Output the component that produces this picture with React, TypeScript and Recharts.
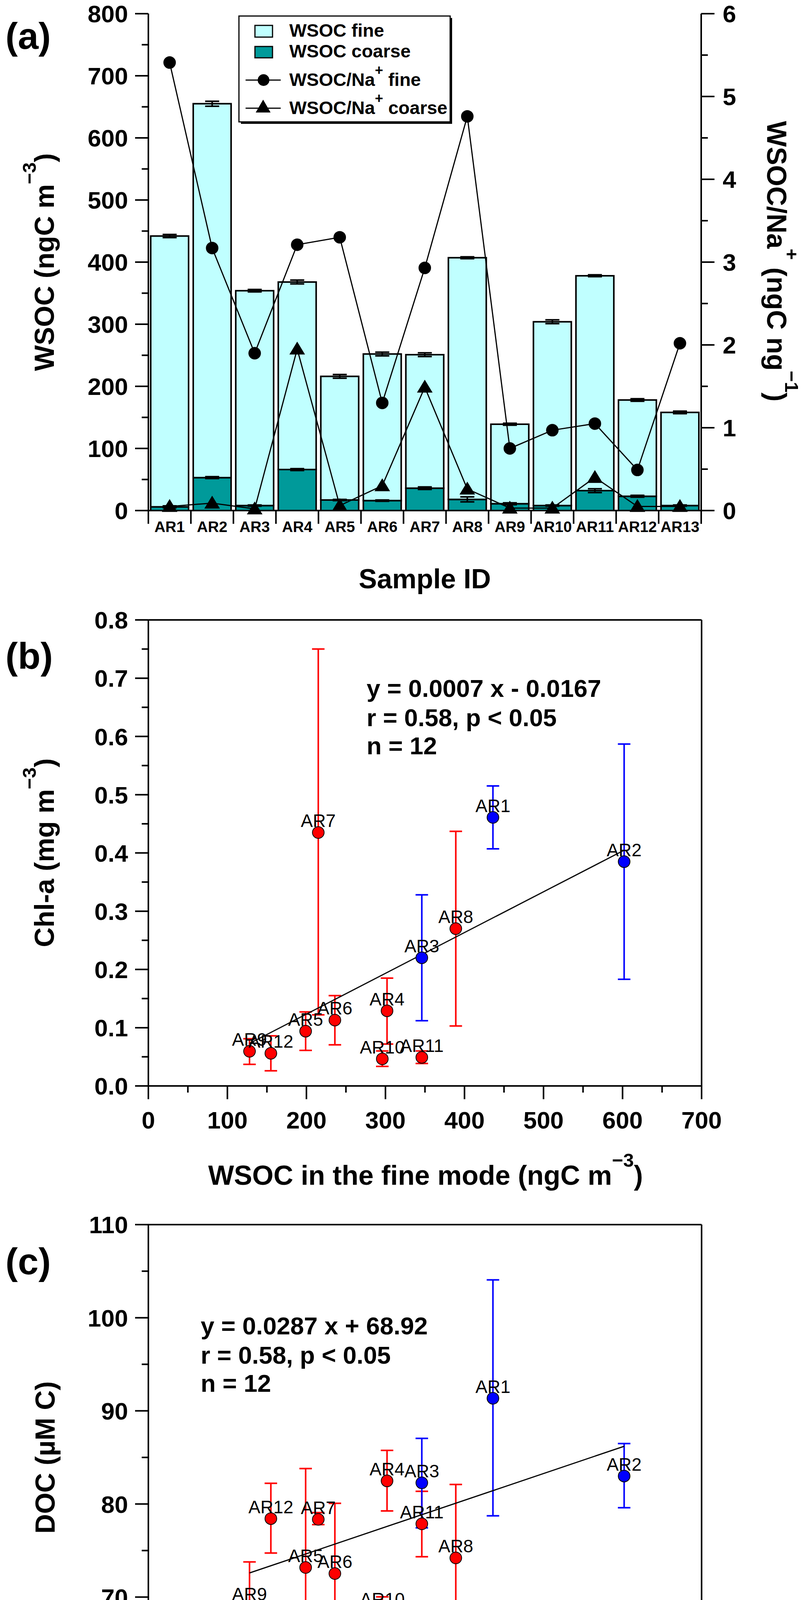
import React from 'react';
import {
  ComposedChart,
  Bar,
  Line,
  Scatter,
  XAxis,
  YAxis,
  ErrorBar,
  ReferenceLine
} from 'recharts';

const FONT = '"Liberation Sans", Arial, Helvetica, sans-serif';
const PAGE_W = 2067;
const PAGE_H = 4609;
const CYAN = '#c0ffff';
const TEAL = '#009a9a';
const RED = '#ff0000';
const BLUE = '#0000ff';

// ---------- panel (a) ----------
const sampleIds = ['AR1', 'AR2', 'AR3', 'AR4', 'AR5', 'AR6', 'AR7', 'AR8', 'AR9', 'AR10', 'AR11', 'AR12', 'AR13'];
const wsocFine = [436, 602, 346, 302, 199, 236, 215, 389, 128, 296, 346, 155, 150];
const wsocFineErr = [2.5, 4, 2, 3, 3, 3, 3, 1.5, 1.5, 3, 1.5, 2, 2];
const wsocCoarse = [6, 53, 8, 66, 17, 16, 36, 18, 11, 8, 32, 23, 8];
const wsocCoarseErr = [1.5, 1.5, 1, 1.5, 1, 1, 2, 4, 1.5, 1, 3, 1.5, 1];
const ratioFine = [5.41, 3.17, 1.9, 3.21, 3.3, 1.3, 2.93, 4.76, 0.75, 0.97, 1.05, 0.49, 2.02];
const ratioCoarse = [0.05, 0.09, 0.02, 1.95, 0.06, 0.3, 1.49, 0.26, 0.03, 0.03, 0.4, 0.05, 0.05];

const wsocTicks = [0, 50, 100, 150, 200, 250, 300, 350, 400, 450, 500, 550, 600, 650, 700, 750, 800];
const ratioTicks = [0, 0.5, 1, 1.5, 2, 2.5, 3, 3.5, 4, 4.5, 5, 5.5, 6];

// ---------- panels (b) and (c) ----------
const seaIds = ['AR1', 'AR2', 'AR3', 'AR4', 'AR5', 'AR6', 'AR7', 'AR8', 'AR9', 'AR10', 'AR11', 'AR12'];
const seaGroup = ['blue', 'blue', 'blue', 'red', 'red', 'red', 'red', 'red', 'red', 'red', 'red', 'red'];
const chla = [0.461, 0.385, 0.22, 0.129, 0.094, 0.113, 0.435, 0.27, 0.0595, 0.0465, 0.049, 0.056];
const chlaHigh = [0.515, 0.587, 0.328, 0.185, 0.127, 0.155, 0.75, 0.437, 0.081, 0.06, 0.06, 0.086];
const chlaLow = [0.407, 0.183, 0.112, 0.072, 0.061, 0.0705, 0.122, 0.103, 0.037, 0.0335, 0.0385, 0.026];
const doc = [91.35, 83.0, 82.27, 82.48, 73.18, 72.53, 78.35, 74.21, 69.04, 68.53, 77.87, 78.43];
const docHigh = [104.06, 86.49, 87.05, 85.75, 83.8, 80.07, 79.08, 82.09, 73.78, 70.03, 81.36, 82.22];
const docLow = [78.73, 79.6, 77.44, 79.25, 62.54, 64.91, 77.79, 66.46, 64.35, 67.1, 74.34, 74.73];

const fitSlope = [0.0007, 0.0287];
const fitIntercept = [-0.0167, 68.92];

const wsocXTicks = [0, 50, 100, 150, 200, 250, 300, 350, 400, 450, 500, 550, 600, 650, 700];
const chlaTicks = [0, 0.05, 0.1, 0.15, 0.2, 0.25, 0.3, 0.35, 0.4, 0.45, 0.5, 0.55, 0.6, 0.65, 0.7, 0.75, 0.8];
const docTicks = [60, 65, 70, 75, 80, 85, 90, 95, 100, 105, 110];

// layout (page pixels)
const PLOT_L = 380;
const PLOT_R = 1796;
const PLOT_W = PLOT_R - PLOT_L;
const MAJOR = 34;
const MINOR = 17;
const AX = 4;
const TICK_FS = 62;
const TITLE_FS = 70;
const axisStyle = { stroke: '#000', strokeWidth: AX };

const barRows = sampleIds.map((id, i) => ({
  id,
  fine: wsocFine[i],
  fineErr: wsocFineErr[i],
  coarse: wsocCoarse[i],
  coarseErr: wsocCoarseErr[i],
  ratioFine: ratioFine[i],
  ratioCoarse: ratioCoarse[i]
}));

const seaPoints = (vals: number[], hi: number[], lo: number[], group: string) =>
  seaIds
    .map((name, i) => ({
      name,
      group: seaGroup[i],
      x: wsocFine[i],
      y: vals[i],
      err: [vals[i] - lo[i], hi[i] - vals[i]]
    }))
    .filter(p => p.group === group);

const seaX = seaIds.map((_, i) => wsocFine[i]);
const fitSegment = (k: number) => {
  const x0 = Math.min(...seaX);
  const x1 = Math.max(...seaX);
  return [
    { x: x0, y: fitSlope[k] * x0 + fitIntercept[k] },
    { x: x1, y: fitSlope[k] * x1 + fitIntercept[k] }
  ];
};

const isMajor = (v: number, step: number) => Math.abs(v / step - Math.round(v / step)) < 1e-6;

type Side = 'left' | 'right' | 'top' | 'bottom';

const makeTick = (side: Side, step: number, fmt?: (v: number) => string, gap = 0) => (props: any) => {
  const { x, y, payload } = props;
  const v = Number(payload.value);
  const major = isMajor(v, step);
  const len = major ? MAJOR : MINOR;
  const showLabel = fmt && major;
  const t = { fontSize: TICK_FS, fontWeight: 'bold', fontFamily: FONT, fill: '#000' } as any;
  if (side === 'left') {
    return (
      <g>
        <line x1={x - len} y1={y} x2={x} y2={y} stroke="#000" strokeWidth={AX} />
        {showLabel && <text x={x - gap} y={y + TICK_FS * 0.36} textAnchor="end" {...t}>{fmt!(v)}</text>}
      </g>
    );
  }
  if (side === 'right') {
    return (
      <g>
        <line x1={x} y1={y} x2={x + len} y2={y} stroke="#000" strokeWidth={AX} />
        {showLabel && <text x={x + gap} y={y + TICK_FS * 0.36} textAnchor="start" {...t}>{fmt!(v)}</text>}
      </g>
    );
  }
  if (side === 'top') {
    return <line x1={x} y1={y - len} x2={x} y2={y} stroke="#000" strokeWidth={AX} />;
  }
  return (
    <g>
      <line x1={x} y1={y} x2={x} y2={y + len} stroke="#000" strokeWidth={AX} />
      {showLabel && <text x={x} y={y + gap} textAnchor="middle" {...t}>{fmt!(v)}</text>}
    </g>
  );
};

const BAND = PLOT_W / sampleIds.length;
const categoryTick = (props: any) => {
  const { x, y, payload, index } = props;
  return (
    <g>
      <line x1={x - BAND / 2} y1={y} x2={x - BAND / 2} y2={y + MAJOR} stroke="#000" strokeWidth={AX} />
      {index === sampleIds.length - 1 && (
        <line x1={x + BAND / 2} y1={y} x2={x + BAND / 2} y2={y + MAJOR} stroke="#000" strokeWidth={AX} />
      )}
      <text x={x} y={y + 55} textAnchor="middle" fontSize={39} fontWeight="bold" fontFamily={FONT}>
        {payload.value}
      </text>
    </g>
  );
};

const circleDot = (p: any) => <circle key={`c${p.index}`} cx={p.cx} cy={p.cy} r={16} fill="#000" />;
const triangleDot = (p: any) => (
  <path key={`t${p.index}`} d={`M${p.cx},${p.cy - 19} L${p.cx + 20},${p.cy + 14} L${p.cx - 20},${p.cy + 14} Z`} fill="#000" />
);

const pointShape = (fill: string) => (p: any) => (
  <g>
    <circle cx={p.cx} cy={p.cy} r={15} fill={fill} stroke="#000" strokeWidth={2} />
    <text x={p.cx} y={p.cy - 14} textAnchor="middle" fontSize={46} fontFamily={FONT} fill="#000">
      {p.payload.name}
    </text>
  </g>
);

const fmtInt = (v: number) => String(v);
const fmt1 = (v: number) => v.toFixed(1);

const ScatterPanel = ({ top, height, margin, yDomain, yTicks, yStep, yFmt, vals, hi, lo, k }: any) => (
  <div style={{ position: 'absolute', left: 0, top }}>
    <ComposedChart width={PAGE_W} height={height} margin={margin}>
      <XAxis dataKey="x" type="number" domain={[0, 700]} ticks={wsocXTicks} interval={0} height={100}
        axisLine={axisStyle} tickLine={false} tickSize={0} tickMargin={0}
        tick={makeTick('bottom', 100, fmtInt, 109)} />
      <XAxis xAxisId="top" orientation="top" type="number" domain={[0, 700]} ticks={wsocXTicks} interval={0} height={40}
        axisLine={axisStyle} tickLine={false} tickSize={0} tickMargin={0} tick={makeTick('top', 100)} />
      <YAxis dataKey="y" type="number" domain={yDomain} ticks={yTicks} interval={0} width={150}
        axisLine={axisStyle} tickLine={false} tickSize={0} tickMargin={0}
        tick={makeTick('left', yStep, yFmt, 52)} />
      <YAxis yAxisId="right" orientation="right" type="number" domain={yDomain} ticks={yTicks} interval={0} width={40}
        axisLine={axisStyle} tickLine={false} tickSize={0} tickMargin={0} tick={makeTick('right', yStep)} />
      <Scatter data={seaPoints(vals, hi, lo, 'red')} shape={pointShape(RED)} isAnimationActive={false}>
        <ErrorBar dataKey="err" direction="y" width={16} stroke={RED} strokeWidth={4} />
      </Scatter>
      <Scatter data={seaPoints(vals, hi, lo, 'blue')} shape={pointShape(BLUE)} isAnimationActive={false}>
        <ErrorBar dataKey="err" direction="y" width={16} stroke={BLUE} strokeWidth={4} />
      </Scatter>
      <ReferenceLine segment={fitSegment(k)} stroke="#000" strokeWidth={3} ifOverflow="visible" />
    </ComposedChart>
  </div>
);

const txt = { fontFamily: FONT, fill: '#000' } as any;
const SUP_DY = 46;
const SUP_FS = 49;

export default function App() {
  return (
    <div style={{ position: 'absolute', left: 0, top: 0, width: PAGE_W, height: PAGE_H, background: '#fff' }}>
      {/* (a) */}
      <div style={{ position: 'absolute', left: 0, top: 0 }}>
        <ComposedChart width={PAGE_W} height={1420} data={barRows}
          margin={{ top: 35, right: 121, bottom: 13, left: 230 }} barCategoryGap={6}>
          <XAxis dataKey="id" type="category" height={100} axisLine={axisStyle} tickLine={false}
            tickSize={0} tickMargin={0} interval={0} tick={categoryTick} />
          <YAxis yAxisId="left" type="number" width={150} domain={[0, 800]} ticks={wsocTicks} interval={0}
            axisLine={axisStyle} tickLine={false} tickSize={0} tickMargin={0}
            tick={makeTick('left', 100, fmtInt, 52)} />
          <YAxis yAxisId="right" orientation="right" type="number" width={150} domain={[0, 6]} ticks={ratioTicks}
            interval={0} axisLine={axisStyle} tickLine={false} tickSize={0} tickMargin={0}
            tick={makeTick('right', 1, fmtInt, 55)} />
          <Bar yAxisId="left" dataKey="coarse" stackId="w" fill={TEAL} stroke="#000" strokeWidth={4} isAnimationActive={false}>
            <ErrorBar dataKey="coarseErr" direction="y" width={18} stroke="#000" strokeWidth={4} />
          </Bar>
          <Bar yAxisId="left" dataKey="fine" stackId="w" fill={CYAN} stroke="#000" strokeWidth={4} isAnimationActive={false}>
            <ErrorBar dataKey="fineErr" direction="y" width={18} stroke="#000" strokeWidth={4} />
          </Bar>
          <Line yAxisId="right" type="linear" dataKey="ratioFine" stroke="#000" strokeWidth={3}
            dot={circleDot} activeDot={false} isAnimationActive={false} />
          <Line yAxisId="right" type="linear" dataKey="ratioCoarse" stroke="#000" strokeWidth={3}
            dot={triangleDot} activeDot={false} isAnimationActive={false} />
        </ComposedChart>
      </div>

      {/* (b) */}
      <ScatterPanel top={1450} height={1480} margin={{ top: 97, right: 230, bottom: 50, left: 230 }}
        yDomain={[0, 0.8]} yTicks={chlaTicks} yStep={0.1} yFmt={fmt1} vals={chla} hi={chlaHigh} lo={chlaLow} k={0} />

      {/* (c) */}
      <ScatterPanel top={3040} height={1440} margin={{ top: 55, right: 230, bottom: 53, left: 230 }}
        yDomain={[60, 110]} yTicks={docTicks} yStep={10} yFmt={fmtInt} vals={doc} hi={docHigh} lo={docLow} k={1} />

      {/* titles, legend, annotations */}
      <svg width={PAGE_W} height={PAGE_H} style={{ position: 'absolute', left: 0, top: 0, pointerEvents: 'none' }}>
        <g {...txt} fontWeight="bold">
          <text x={14} y={125} fontSize={95}>(a)</text>
          <text x={14} y={1712} fontSize={95}>(b)</text>
          <text x={14} y={3262} fontSize={95}>(c)</text>

          <text transform="translate(138,671) rotate(-90)" textAnchor="middle" fontSize={TITLE_FS}>
            WSOC (ngC m<tspan dy={-SUP_DY} fontSize={SUP_FS}>−3</tspan><tspan dy={SUP_DY}>)</tspan>
          </text>
          <text transform="translate(1965,669) rotate(90)" textAnchor="middle" fontSize={TITLE_FS}>
            WSOC/Na<tspan dy={-SUP_DY} fontSize={SUP_FS}>+</tspan><tspan dy={SUP_DY}> (ngC ng</tspan>
            <tspan dy={-SUP_DY} fontSize={SUP_FS}>−1</tspan><tspan dy={SUP_DY}>)</tspan>
          </text>
          <text x={1088} y={1506} textAnchor="middle" fontSize={TITLE_FS}>Sample ID</text>

          <text transform="translate(138,2183) rotate(-90)" textAnchor="middle" fontSize={TITLE_FS}>
            Chl-a (mg m<tspan dy={-SUP_DY} fontSize={SUP_FS}>−3</tspan><tspan dy={SUP_DY}>)</tspan>
          </text>
          <text x={1090} y={3033} textAnchor="middle" fontSize={TITLE_FS}>
            WSOC in the fine mode (ngC m<tspan dy={-SUP_DY} fontSize={SUP_FS}>−3</tspan><tspan dy={SUP_DY}>)</tspan>
          </text>
          <text x={939} y={1784} fontSize={63}>y = 0.0007 x - 0.0167</text>
          <text x={939} y={1859} fontSize={63}>r = 0.58, p &lt; 0.05</text>
          <text x={939} y={1931} fontSize={63}>n = 12</text>

          <text transform="translate(140,3731) rotate(-90)" textAnchor="middle" fontSize={TITLE_FS}>DOC (µM C)</text>
          <text x={1090} y={4585} textAnchor="middle" fontSize={TITLE_FS}>
            WSOC in the fine-mode (ngC m<tspan dy={-SUP_DY} fontSize={SUP_FS}>−3</tspan><tspan dy={SUP_DY}>)</tspan>
          </text>
          <text x={514} y={3416} fontSize={63}>y = 0.0287 x + 68.92</text>
          <text x={514} y={3491} fontSize={63}>r = 0.58, p &lt; 0.05</text>
          <text x={514} y={3563} fontSize={63}>n = 12</text>
        </g>

        {/* legend of (a) */}
        <g>
          <rect x={617} y={46} width={541} height={271} fill="#000" />
          <rect x={612} y={41} width={541} height={271} fill="#fff" stroke="#000" strokeWidth={3} />
          <rect x={653} y={65} width={45} height={30} fill={CYAN} stroke="#000" strokeWidth={3} />
          <rect x={653} y={119} width={45} height={29} fill={TEAL} stroke="#000" strokeWidth={3} />
          <line x1={629} y1={205} x2={719} y2={205} stroke="#000" strokeWidth={3} />
          <circle cx={675} cy={205} r={15} fill="#000" />
          <line x1={629} y1={277} x2={719} y2={277} stroke="#000" strokeWidth={3} />
          <path d="M674,255 L693,288 L655,288 Z" fill="#000" />
          <g {...txt} fontWeight="bold" fontSize={47}>
            <text x={741} y={94}>WSOC fine</text>
            <text x={741} y={147}>WSOC coarse</text>
            <text x={741} y={220}>WSOC/Na<tspan dy={-28} fontSize={36}>+</tspan><tspan dy={28}> fine</tspan></text>
            <text x={741} y={292}>WSOC/Na<tspan dy={-28} fontSize={36}>+</tspan><tspan dy={28}> coarse</tspan></text>
          </g>
        </g>
      </svg>
    </div>
  );
}
